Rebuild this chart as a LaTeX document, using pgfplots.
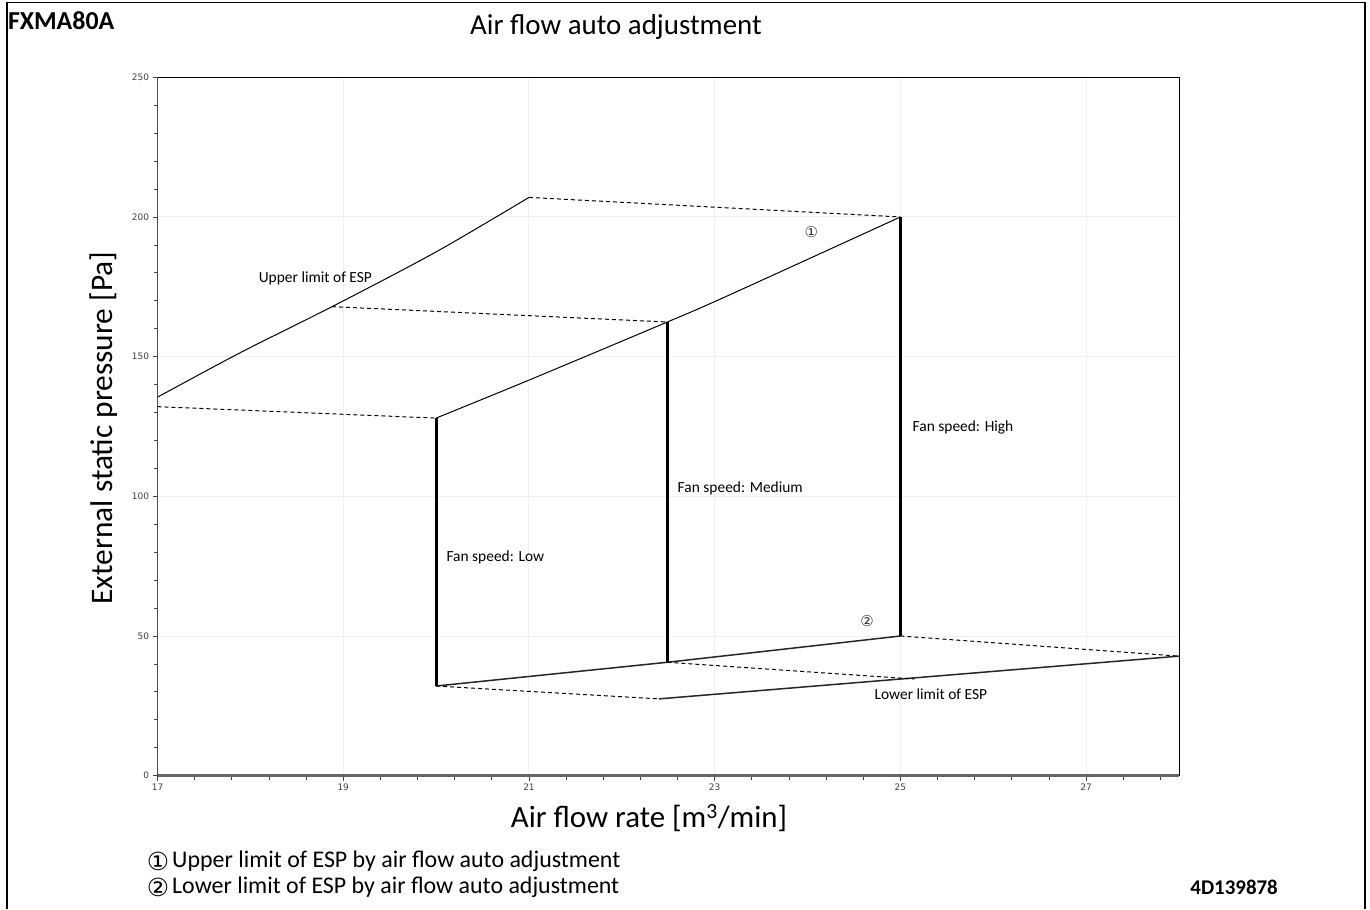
\documentclass[border=0pt]{standalone}
\usepackage{fontspec}
\setmainfont{Carlito}
\newfontfamily\dejavu{DejaVu Sans}
\usepackage{pgfplots}
\pgfplotsset{compat=1.18}
\begin{document}
\begin{tikzpicture}[x=1bp,y=1bp]
\useasboundingbox (0,0) rectangle (1370,909);
\draw[line width=1.5bp] (7,0) -- (7,906.5) -- (1365,906.5) -- (1365,0);
\begin{axis}[
  at={(157.5bp,133.3bp)}, anchor=south west,
  scale only axis, width=1021.5bp, height=698.4bp,
  xmin=17, xmax=28, ymin=0, ymax=250,
  xtick={17,19,21,23,25,27}, ytick={0,50,100,150,200,250},
  minor xtick={17.4,17.8,18.2,18.6,19.4,19.8,20.2,20.6,21.4,21.8,22.2,22.6,23.4,23.8,24.2,24.6,25.4,25.8,26.2,26.6,27.4,27.8},
  minor y tick num=4,
  xtick pos=bottom, ytick pos=left,
  tick align=outside, major tick length=5bp, minor tick length=4bp,
  every tick/.style={black!75, line width=0.8bp},
  grid=major, major grid style={black!6, line width=1bp},
  axis line style={black, line width=1bp},
  tick label style={font=\dejavu\fontsize{9}{10}\selectfont, text=black!75},
  /pgf/number format/assume math mode=true,
  clip=false,
]
% upper limit of ESP
\addplot[black, line width=1bp, smooth] coordinates {(17,135.5)(17.89,151.4)(18.88,167.9)(20.0,187.5)(21.0,207.0)};
% (1) upper limit by auto adjustment
\addplot[black, line width=1bp, smooth] coordinates {(20,128.0)(21,141.6)(22.49,162.4)(23.10,171.2)(25,200)};
% dashed connectors
\addplot[black, line width=1bp, dash pattern=on 4bp off 3bp] coordinates {(17,132.1)(20,128.0)};
\addplot[black, line width=1bp, dash pattern=on 4bp off 3bp] coordinates {(18.88,167.9)(22.49,162.4)};
\addplot[black, line width=1bp, dash pattern=on 4bp off 3bp] coordinates {(21,207.0)(25,200)};
% fan speed verticals
\addplot[black, line width=3bp] coordinates {(20,128)(20,32.1)};
\addplot[black, line width=3bp] coordinates {(22.49,162.4)(22.49,40.6)};
\addplot[black, line width=3bp] coordinates {(25,200)(25,50)};
% lower limits
\addplot[black!85, line width=1.5bp] coordinates {(20,32.1)(22.49,40.6)(25,50)};
\addplot[black!85, line width=1.5bp] coordinates {(22.40,27.5)(28,42.8)};
\addplot[black, line width=1bp, dash pattern=on 4bp off 3bp] coordinates {(20,32.1)(22.40,27.5)};
\addplot[black, line width=1bp, dash pattern=on 4bp off 3bp] coordinates {(22.49,40.6)(25.15,34.6)};
\addplot[black, line width=1bp, dash pattern=on 4bp off 3bp] coordinates {(25,50)(28,42.8)};
% bottom / left axis lines
\draw[black!60, line width=2.5bp] (axis cs:17,0) -- (axis cs:28,0);
\draw[black!70, line width=1.5bp] (axis cs:17,0) -- (axis cs:17,250);
% annotations
\node[font=\fontsize{15.5}{18}\selectfont, inner sep=0] at (axis cs:18.70,178) {Upper limit of ESP};
\node[font=\dejavu\fontsize{15}{18}\selectfont, inner sep=0, text=black!80] at (axis cs:24.04,194.6) {①};
\node[font=\fontsize{15.5}{18}\selectfont, inner sep=0, anchor=west] at (axis cs:25.13,124.8) {Fan speed: High};
\node[font=\fontsize{15.5}{18}\selectfont, inner sep=0, anchor=west] at (axis cs:22.6,103) {Fan speed: Medium};
\node[font=\fontsize{15.5}{18}\selectfont, inner sep=0, anchor=west] at (axis cs:20.11,78.3) {Fan speed: Low};
\node[font=\dejavu\fontsize{15}{18}\selectfont, inner sep=0, text=black!80] at (axis cs:24.64,55.4) {②};
\node[font=\fontsize{15.5}{18}\selectfont, inner sep=0, anchor=west] at (axis cs:24.72,29.2) {Lower limit of ESP};
\end{axis}
\node[font=\fontsize{29}{34}\selectfont, inner sep=0] at (616,882) {Air flow auto adjustment};
\node[font=\bfseries\fontsize{26}{30}\selectfont, inner sep=0, anchor=west] at (8,888) {FXMA80A};
\node[font=\fontsize{31.5}{36}\selectfont, inner sep=0, rotate=90] at (104,481) {External static pressure [Pa]};
\node[font=\fontsize{31}{36}\selectfont, inner sep=0, anchor=base] at (649,82) {Air flow rate [m\textsuperscript{3}/min]};
\node[font=\dejavu\fontsize{25}{28}\selectfont, inner sep=0] at (158,48) {①};
\node[font=\fontsize{24}{28}\selectfont, inner sep=0, anchor=west] at (172,48) {Upper limit of ESP by air flow auto adjustment};
\node[font=\dejavu\fontsize{25}{28}\selectfont, inner sep=0] at (158,22) {②};
\node[font=\fontsize{24}{28}\selectfont, inner sep=0, anchor=west] at (172,22) {Lower limit of ESP by air flow auto adjustment};
\node[font=\bfseries\fontsize{21}{24}\selectfont, inner sep=0, anchor=east] at (1278,22) {4D139878};
\end{tikzpicture}
\end{document}
